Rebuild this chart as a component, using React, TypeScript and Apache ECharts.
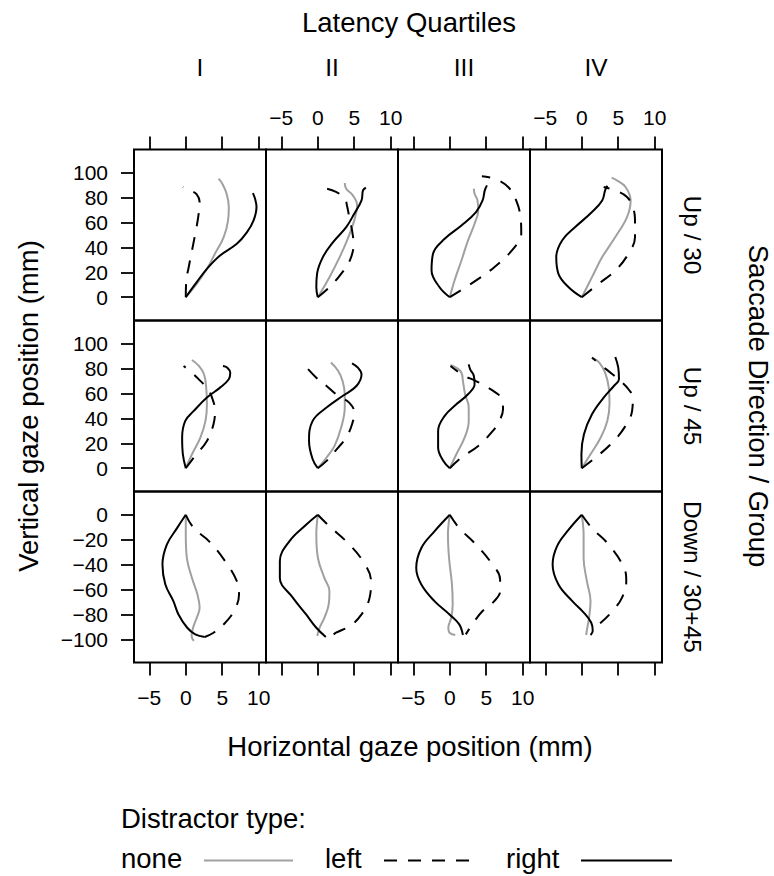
import React, { useEffect, useRef } from "react";
import * as echarts from "echarts";

// Panel layout: rows are saccade direction / group, columns are latency quartiles
const QUARTILES = ["I", "II", "III", "IV"];
const GROUPS = ["Up / 30", "Up / 45", "Down / 30+45"];
const X_TICKS = [-5, 0, 5, 10];
const Y_TICKS_UP = [0, 20, 40, 60, 80, 100];
const Y_TICKS_DOWN = [0, -20, -40, -60, -80, -100];

// Mean gaze trajectories, [horizontal mm, vertical mm]
// Up / 30
const up30_I_none = [[0, 0], [1.5, 10.7], [2.9, 22.8], [4.0, 34.9], [5.2, 48.3], [5.8, 61.7], [5.9, 72.4], [5.6, 83.1], [5.0, 91.2], [4.5, 95.2]];
const up30_I_left = [[0, 0], [0.07, 13.4], [0.4, 24.1], [0.85, 37.5], [1.3, 50.9], [1.7, 64.3], [1.9, 76.4], [1.5, 82.6], [0.6, 85.8], [-0.4, 88.5]];
const up30_I_right = [[0, 0], [1.5, 12.1], [2.9, 22.8], [4.7, 33.5], [7.0, 42.9], [8.4, 52.3], [9.3, 61.7], [9.7, 72.4], [9.5, 79.1], [9.2, 83.6]];
const up30_II_none = [[0, 0], [1.6, 16.1], [3.0, 32.2], [4.1, 46.9], [5.0, 61.7], [5.4, 73.7], [4.8, 81.8], [3.9, 87.1], [3.7, 91.7]];
const up30_II_left = [[0, 0], [1.6, 8.0], [3.2, 18.8], [4.4, 29.5], [4.9, 42.9], [4.7, 53.6], [4.4, 61.7], [4.0, 73.7], [3.7, 79.1], [2.5, 84.5], [0.3, 88.5]];
const up30_II_right = [[0, 0], [-0.2, 8.0], [-0.1, 18.8], [0.7, 32.2], [2.1, 44.2], [3.9, 56.3], [5.0, 67.0], [6.0, 77.7], [6.2, 85.8], [6.6, 87.9]];
const up30_III_none = [[0, 0], [0.65, 13.4], [1.6, 29.5], [2.5, 45.6], [3.4, 59.0], [3.9, 69.7], [3.8, 77.7], [3.4, 83.1], [3.3, 87.1]];
const up30_III_left = [[0, 0], [2.9, 10.7], [6.1, 24.1], [8.9, 40.2], [9.8, 50.9], [9.7, 64.3], [9.1, 77.7], [8.0, 88.5], [6.1, 95.2], [4.4, 97.1]];
const up30_III_right = [[0, 0], [-1.4, 8.0], [-2.5, 21.4], [-2.3, 34.9], [-0.7, 46.9], [1.6, 57.6], [3.6, 68.4], [4.5, 77.7], [4.8, 85.8], [5.1, 89.8]];
const up30_IV_none = [[0, 0], [1.4, 16.1], [2.8, 32.2], [4.6, 48.3], [6.2, 64.3], [6.7, 77.7], [6.0, 88.5], [4.8, 93.8], [4.1, 96.0]];
const up30_IV_left = [[0, 0], [2.3, 10.7], [4.6, 21.4], [6.4, 34.9], [7.3, 48.3], [7.3, 61.7], [7.0, 72.4], [6.2, 80.4], [4.8, 85.3], [3.0, 88.5]];
const up30_IV_right = [[0, 0], [-1.8, 8.0], [-3.2, 18.8], [-3.5, 32.2], [-2.7, 45.6], [-0.9, 56.3], [1.4, 68.4], [2.8, 77.7], [3.2, 85.8], [3.5, 89.5]];
// Up / 45
const up45_I_none = [[0, 0], [0.85, 11.2], [2.0, 24.6], [2.7, 38.0], [2.9, 51.3], [2.8, 64.7], [2.5, 75.4], [1.8, 82.1], [0.85, 86.9]];
const up45_I_left = [[0, 0], [1.1, 8.6], [2.9, 21.9], [3.8, 35.3], [4.0, 46.0], [3.6, 56.7], [2.9, 64.7], [2.0, 70.1], [0.85, 76.7], [-0.3, 82.1]];
const up45_I_right = [[0, 0], [-0.4, 11.2], [-0.5, 24.6], [-0.07, 38.0], [1.1, 46.0], [2.9, 56.7], [4.7, 64.7], [5.9, 71.4], [6.1, 76.7], [5.7, 80.7], [5.1, 82.1]];
const up45_II_none = [[0, 0], [1.2, 8.6], [2.3, 17.9], [3.2, 32.6], [3.7, 48.7], [3.7, 59.4], [3.4, 70.1], [2.8, 78.1], [1.8, 84.8]];
const up45_II_left = [[0, 0], [1.2, 5.9], [2.8, 16.6], [3.9, 24.6], [4.7, 35.3], [5.0, 44.7], [4.3, 52.7], [2.8, 58.0], [1.2, 66.0], [-0.2, 72.7], [-1.6, 81.3]];
const up45_II_right = [[0, 0], [-0.7, 7.2], [-1.2, 21.9], [-0.7, 38.0], [1.2, 48.7], [3.4, 58.0], [5.3, 66.0], [6.0, 75.4], [5.5, 80.7], [4.7, 84.2]];
const up45_III_none = [[0, 0], [0.9, 11.2], [2.0, 24.1], [2.6, 38.0], [2.6, 48.7], [2.1, 59.4], [1.8, 70.1], [1.6, 76.7], [0.9, 80.7], [0.1, 82.9]];
const up45_III_left = [[0, 0], [1.6, 8.6], [3.9, 17.9], [5.9, 29.9], [6.8, 38.0], [7.3, 47.3], [7.0, 56.7], [6.1, 61.5], [4.8, 66.0], [3.4, 70.6], [2.0, 74.1], [0.1, 82.1]];
const up45_III_right = [[0, 0], [-0.9, 5.9], [-1.6, 16.6], [-1.6, 29.9], [-0.7, 42.0], [0.9, 51.3], [2.5, 59.4], [3.4, 67.4], [3.3, 74.1], [2.8, 79.4], [2.6, 83.4]];
const up45_IV_none = [[0, 0], [1.2, 11.2], [2.6, 24.6], [3.5, 38.0], [3.8, 51.3], [3.7, 64.7], [3.2, 76.7], [2.4, 84.8], [1.6, 88.2]];
const up45_IV_left = [[0, 0], [1.9, 8.6], [4.2, 20.6], [6.0, 34.0], [6.9, 46.0], [7.0, 56.7], [6.4, 63.4], [5.3, 70.1], [4.2, 75.4], [2.8, 82.1], [1.4, 88.8]];
const up45_IV_right = [[0, 0], [-0.05, 11.2], [0.3, 27.3], [1.4, 43.3], [3.0, 56.7], [4.4, 66.0], [5.1, 71.4], [5.0, 80.7], [4.6, 89.3]];
// Down / 30+45
const down_I_none = [[0, 0], [0, -16], [0.15, -34.7], [0.85, -50.7], [1.6, -64], [1.9, -74.7], [1.5, -82.7], [1.0, -90.7], [0.8, -97.3], [1.1, -101.3]];
const down_I_left = [[0, 0], [1.1, -10.7], [3.2, -21.3], [5.4, -37.3], [7.0, -53.3], [7.3, -64], [6.6, -77.3], [5.2, -88], [3.8, -94.7], [2.6, -98.1]];
const down_I_right = [[0, 0], [-1.2, -10.7], [-2.6, -24], [-3.2, -40], [-2.8, -56], [-1.7, -69.3], [-1.0, -80], [0.2, -90.7], [1.3, -96], [2.6, -98.1]];
const down_II_none = [[0, 0], [-0.2, -16], [0.02, -34.7], [0.9, -50.7], [1.6, -61.3], [1.5, -72], [0.9, -82.7], [0.25, -90.7], [-0.07, -97.3]];
const down_II_left = [[0, 0], [1.6, -9.3], [3.9, -21.3], [6.2, -37.3], [7.3, -53.3], [7.1, -66.7], [6.0, -80], [4.4, -89.3], [2.5, -94.7], [1.9, -97.3]];
const down_II_right = [[0, 0], [-1.6, -8], [-3.9, -21.3], [-5.2, -37.3], [-5.2, -50.7], [-3.4, -66.7], [-1.6, -80], [-0.2, -90.7], [1.1, -98.1]];
const down_III_none = [[0, 0], [-0.25, -16], [-0.1, -34.7], [0.3, -56], [0.4, -72], [0.2, -82.7], [-0.2, -90.7], [-0.04, -94.7], [0.75, -96.5]];
const down_III_left = [[0, 0], [1.3, -10.7], [3.4, -22.7], [5.7, -38.7], [6.9, -52], [6.9, -61.3], [6.1, -69.3], [4.5, -77.3], [3.4, -85.3], [2.2, -96]];
const down_III_right = [[0, 0], [-2.1, -13.3], [-3.9, -26.7], [-4.6, -42.7], [-3.9, -56], [-2.1, -69.3], [-0.04, -80], [1.3, -88], [1.8, -96.5]];
const down_IV_none = [[0, 0], [0.25, -16], [0.25, -34.7], [0.7, -53.3], [1.2, -69.3], [1.0, -82.7], [0.8, -89.3], [0.6, -96.5]];
const down_IV_left = [[0, 0], [1.4, -10.7], [3.7, -24], [5.8, -42.7], [6.1, -53.3], [5.5, -66.7], [4.2, -77.3], [2.6, -86.7], [1.5, -91.2]];
const down_IV_right = [[0, 0], [-1.8, -12], [-3.4, -25.3], [-4.0, -40], [-3.2, -56], [-1.3, -69.3], [0.3, -78.7], [1.3, -86.7], [1.5, -93.3], [1.2, -96.5]];

const PANELS = [
  [
    [up30_I_none, up30_I_left, up30_I_right],
    [up30_II_none, up30_II_left, up30_II_right],
    [up30_III_none, up30_III_left, up30_III_right],
    [up30_IV_none, up30_IV_left, up30_IV_right],
  ],
  [
    [up45_I_none, up45_I_left, up45_I_right],
    [up45_II_none, up45_II_left, up45_II_right],
    [up45_III_none, up45_III_left, up45_III_right],
    [up45_IV_none, up45_IV_left, up45_IV_right],
  ],
  [
    [down_I_none, down_I_left, down_I_right],
    [down_II_none, down_II_left, down_II_right],
    [down_III_none, down_III_left, down_III_right],
    [down_IV_none, down_IV_left, down_IV_right],
  ],
];

const FONT = "'Liberation Sans', Arial, Helvetica, sans-serif";
const GRAY = "#a0a0a0";
const DASH = [13, 11];
const LINE_STYLES = [
  { color: GRAY, width: 2, type: "solid" as any },
  { color: "#000", width: 2, type: DASH as any },
  { color: "#000", width: 2, type: "solid" as any },
];

const PANEL_LEFT = [134, 266, 398, 530];
const PANEL_TOP = [149.5, 320.5, 491.5];
const PANEL_W = 132;
const PANEL_H = 171;
const X_RANGE = [-7.1, 11.0];
const Y_RANGE_UP = [-18.7, 118.6];
const Y_RANGE_DOWN = [-118.6, 18.7];

const minus = (v: number) => String(v).replace("-", "\u2212");

function buildOption() {
  const grid: any[] = [];
  const xAxis: any[] = [];
  const yAxis: any[] = [];
  const series: any[] = [];
  const tickStyle = { show: true, inside: false, length: 13, lineStyle: { color: "#000", width: 1.8 } };
  const labelText = { color: "#000", fontSize: 21, fontFamily: FONT };

  for (let r = 0; r < 3; r++) {
    for (let c = 0; c < 4; c++) {
      const g = r * 4 + c;
      grid.push({
        left: PANEL_LEFT[c],
        top: PANEL_TOP[r],
        width: PANEL_W,
        height: PANEL_H,
        show: true,
        borderColor: "#000",
        borderWidth: 2,
        backgroundColor: "transparent",
      });
      const topAxis = r === 0;
      const bottomAxis = r === 2;
      const showXLabels = (topAxis && c % 2 === 1) || (bottomAxis && c % 2 === 0);
      xAxis.push({
        type: "value",
        gridIndex: g,
        min: X_RANGE[0],
        max: X_RANGE[1],
        position: topAxis ? "top" : "bottom",
        axisLine: { show: false, onZero: false },
        splitLine: { show: false },
        axisTick: topAxis || bottomAxis ? { ...tickStyle, customValues: X_TICKS } : { show: false },
        axisLabel: showXLabels
          ? { show: true, customValues: X_TICKS, margin: topAxis ? 22 : 24, formatter: minus, ...labelText }
          : { show: false },
      });
      const down = r === 2;
      const yTicks = down ? Y_TICKS_DOWN : Y_TICKS_UP;
      const yRange = down ? Y_RANGE_DOWN : Y_RANGE_UP;
      yAxis.push({
        type: "value",
        gridIndex: g,
        min: yRange[0],
        max: yRange[1],
        position: "left",
        axisLine: { show: false, onZero: false },
        splitLine: { show: false },
        axisTick: c === 0 ? { ...tickStyle, customValues: yTicks } : { show: false },
        axisLabel:
          c === 0
            ? { show: true, customValues: yTicks, margin: 26, formatter: minus, ...labelText }
            : { show: false },
      });
      PANELS[r][c].forEach((pts, k) => {
        series.push({
          type: "line",
          name: ["none", "left", "right"][k],
          xAxisIndex: g,
          yAxisIndex: g,
          data: pts,
          showSymbol: false,
          symbol: "none",
          smooth: 0.4,
          lineStyle: LINE_STYLES[k],
          silent: true,
          z: 3 + k,
        });
      });
    }
  }

  const text = (x: number, y: number, str: string, size: number, rotation = 0) => ({
    type: "text",
    x,
    y,
    rotation,
    style: {
      text: str,
      fill: "#000",
      fontSize: size,
      fontFamily: FONT,
      align: "center",
      verticalAlign: "middle",
    },
  });
  const leftText = (x: number, y: number, str: string, size: number) => ({
    type: "text",
    x,
    y,
    style: { text: str, fill: "#000", fontSize: size, fontFamily: FONT, align: "left", verticalAlign: "middle" },
  });
  const legendLine = (x1: number, x2: number, y: number, k: number) => ({
    type: "line",
    shape: { x1, y1: y, x2, y2: y },
    style: {
      stroke: LINE_STYLES[k].color,
      lineWidth: 2,
      lineDash: k === 1 ? DASH : null,
    },
  });

  const graphic: any[] = [
    text(409, 22.5, "Latency Quartiles", 27.5),
    ...QUARTILES.map((q, c) => text(PANEL_LEFT[c] + PANEL_W / 2, 67.5, q, 24.5)),
    ...GROUPS.map((gname, r) => text(692, PANEL_TOP[r] + PANEL_H / 2, gname, 24.5, -Math.PI / 2)),
    text(758, 406, "Saccade Direction / Group", 27.5, -Math.PI / 2),
    text(28, 406, "Vertical gaze position (mm)", 27.5, Math.PI / 2),
    text(410, 746.5, "Horizontal gaze position (mm)", 27.5),
    leftText(121, 818.5, "Distractor type:", 27.5),
    leftText(121, 858.5, "none", 27.5),
    legendLine(204, 293, 860.5, 0),
    leftText(325, 858.5, "left", 27.5),
    legendLine(384, 473, 860.5, 1),
    leftText(506, 858.5, "right", 27.5),
    legendLine(581, 672, 860.5, 2),
  ];

  return { animation: false, backgroundColor: "#fff", grid, xAxis, yAxis, series, graphic };
}

export default function App() {
  const ref = useRef<HTMLDivElement>(null);
  useEffect(() => {
    document.body.style.margin = "0";
    if (!ref.current) return;
    const chart = echarts.init(ref.current, null, { renderer: "svg" });
    chart.setOption(buildOption());
    return () => chart.dispose();
  }, []);
  return <div ref={ref} style={{ width: 774, height: 876 }} />;
}
